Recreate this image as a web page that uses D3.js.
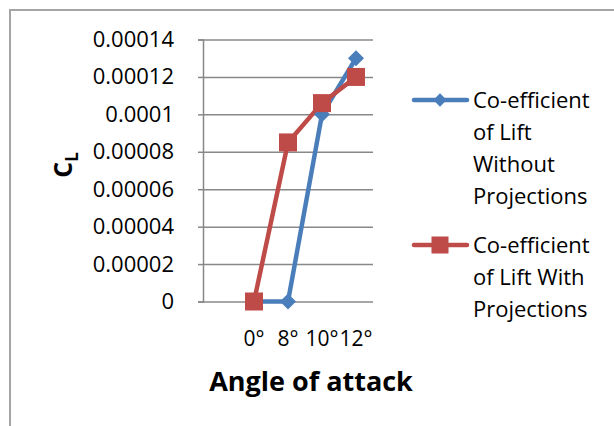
<!DOCTYPE html>
<html>
<head>
<meta charset="utf-8">
<script src="https://cdn.jsdelivr.net/npm/d3@7"></script>
<style>
  body { margin: 0; background: #fff; }
  svg { display: block; font-family: "Open Sans", sans-serif; }
</style>
</head>
<body>
<svg id="chart"></svg>
<script>
// angle of attack categories (first slot is empty in the original chart)
var categories = ["", "0°", "8°", "10°", "12°"];
var liftWithout = [null, 0, 0, 0.0001, 0.00013];
var liftWith = [null, 0, 0.000085, 0.000106, 0.00012];
var yTicks = [0, 0.00002, 0.00004, 0.00006, 0.00008, 0.0001, 0.00012, 0.00014];
var legendLines = [
  ["Co-efficient", "of Lift", "Without", "Projections"],
  ["Co-efficient", "of Lift With", "Projections"]
];

var W = 614, H = 426;
var plotL = 203, plotR = 373, plotT = 39.5, plotB = 301.5;

var svg = d3.select("#chart")
    .attr("width", W)
    .attr("height", H);

// outer chart frame (right/bottom run off the picture)
svg.append("rect")
    .attr("x", 10).attr("y", 10)
    .attr("width", W + 20).attr("height", H + 20)
    .attr("fill", "none")
    .attr("stroke", "#a5a5a5")
    .attr("stroke-width", 2);

var x = d3.scalePoint()
    .domain(categories)
    .range([plotL, plotR])
    .padding(0.5);

var y = d3.scaleLinear()
    .domain([0, 0.00014])
    .range([plotB, plotT]);

// gridlines
svg.append("g")
    .attr("transform", "translate(" + plotL + ",0)")
    .call(d3.axisLeft(y).tickValues(yTicks).tickSize(-(plotR - plotL)).tickFormat(""))
    .call(function (g) {
        g.select(".domain").remove();
        g.selectAll("line").attr("stroke", "#888").attr("stroke-width", 1.5);
    });

// y axis
svg.append("g")
    .attr("transform", "translate(" + plotL + ",0)")
    .call(d3.axisLeft(y)
        .tickValues(yTicks)
        .tickSize(5)
        .tickPadding(24)
        .tickFormat(function (d) { return d === 0 ? "0" : String(+d.toFixed(5)); }))
    .call(function (g) {
        g.select(".domain").attr("stroke", "#888").attr("stroke-width", 1.5);
        g.selectAll("line").attr("stroke", "#888").attr("stroke-width", 1.5);
        g.selectAll("text")
            .attr("fill", "#000")
            .style("font-size", "22px")
            .style("font-family", "Open Sans, sans-serif");
    });

// x labels
svg.append("g")
    .selectAll("text")
    .data(categories)
    .join("text")
    .attr("x", function (d) { return x(d); })
    .attr("y", 346)
    .attr("text-anchor", "middle")
    .style("font-size", "21px")
    .text(function (d) { return d; });

// axis titles
svg.append("text")
    .attr("x", 311)
    .attr("y", 391)
    .attr("text-anchor", "middle")
    .style("font-size", "27px")
    .style("font-weight", "bold")
    .text("Angle of attack");

var yt = svg.append("text")
    .attr("transform", "translate(72,165)rotate(-90)")
    .attr("text-anchor", "middle")
    .style("font-size", "25px")
    .style("font-weight", "bold");
yt.append("tspan").text("C");
yt.append("tspan").attr("dy", 6).style("font-size", "17px").text("L");

var series = [
    { values: liftWithout, color: "#4a7ebb", marker: "diamond" },
    { values: liftWith, color: "#be4b48", marker: "square" }
];

var lineMaker = d3.line()
    .defined(function (d) { return d.v !== null; })
    .x(function (d) { return x(d.c); })
    .y(function (d) { return y(d.v); });

function drawMarker(g, type, size) {
    if (type === "diamond") {
        g.append("path")
            .attr("d", d3.symbol().type(d3.symbolDiamond2).size(size * size * 0.5)());
    } else {
        g.append("rect")
            .attr("x", -size / 2).attr("y", -size / 2)
            .attr("width", size).attr("height", size);
    }
}

series.forEach(function (s) {
    var pts = categories.map(function (c, i) { return { c: c, v: s.values[i] }; });
    svg.append("path")
        .datum(pts)
        .attr("d", lineMaker)
        .attr("fill", "none")
        .attr("stroke", s.color)
        .attr("stroke-width", 4.5)
        .attr("stroke-linejoin", "round");
});

series.forEach(function (s) {
    var pts = categories.map(function (c, i) { return { c: c, v: s.values[i] }; })
        .filter(function (d) { return d.v !== null; });
    svg.append("g")
        .selectAll("g")
        .data(pts)
        .join("g")
        .attr("transform", function (d) { return "translate(" + x(d.c) + "," + y(d.v) + ")"; })
        .attr("fill", s.color)
        .each(function () { drawMarker(d3.select(this), s.marker, 18); });
});

// legend
var legendY = [100, 245];
series.forEach(function (s, i) {
    var lg = svg.append("g").attr("transform", "translate(0," + legendY[i] + ")");
    lg.append("line")
        .attr("x1", 414).attr("x2", 467)
        .attr("stroke", s.color)
        .attr("stroke-width", 4.5)
        .attr("stroke-linecap", "round");
    var m = lg.append("g").attr("transform", "translate(440,0)").attr("fill", s.color);
    drawMarker(m, s.marker, s.marker === "square" ? 17 : 15);
    lg.append("g")
        .selectAll("text")
        .data(legendLines[i])
        .join("text")
        .attr("x", 473)
        .attr("y", function (d, j) { return 8 + j * 32; })
        .style("font-size", "22px")
        .text(function (d) { return d; });
});
</script>
</body>
</html>
